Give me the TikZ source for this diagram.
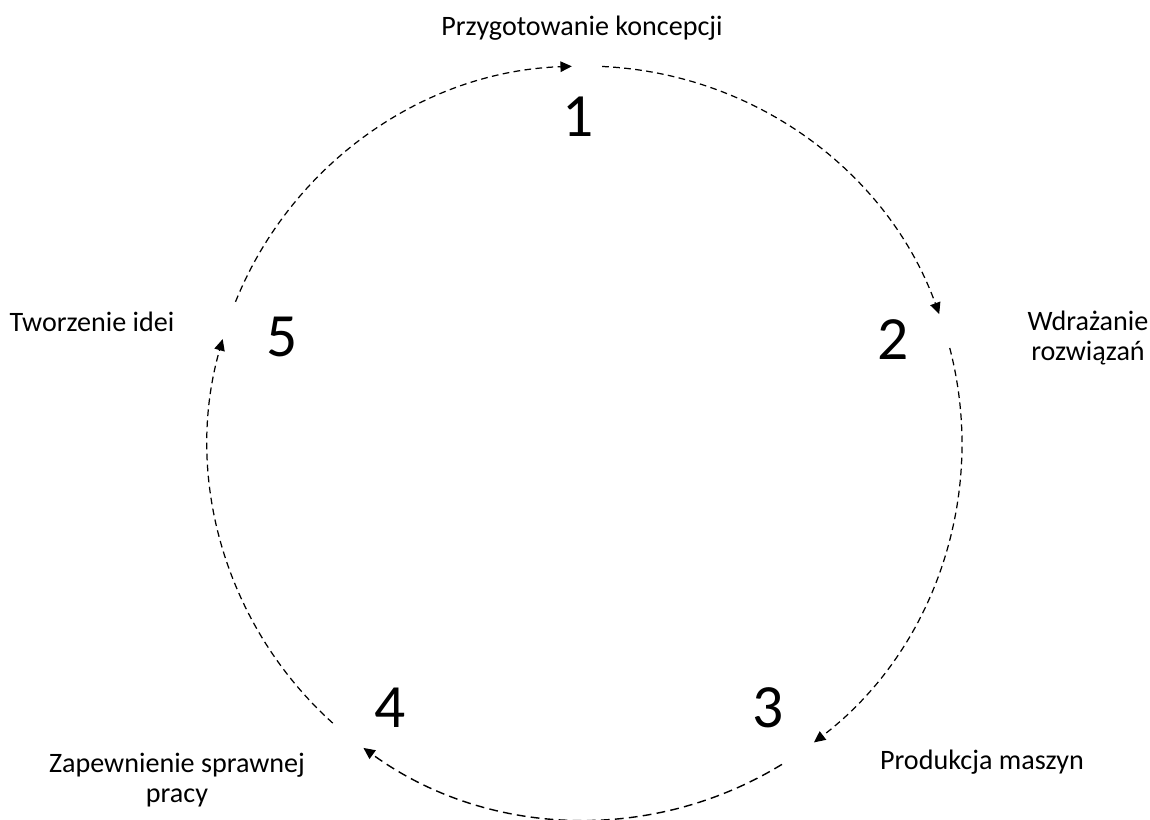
\documentclass[tikz,border=0pt]{standalone}
\usepackage{fontspec}
\setmainfont{Carlito}
\usetikzlibrary{arrows.meta,calc}

\begin{document}
\begin{tikzpicture}[x=0.02cm, y=0.02cm,
    lbl/.style={font=\fontsize{16}{17.5}\selectfont, align=center, inner sep=0pt},
    num/.style={font=\fontsize{35}{40}\selectfont, inner sep=0pt},
    flow/.style={dash pattern=on 3.8pt off 2.5pt, line width=0.7pt, -{Triangle[length=6.5pt,width=6pt]}}]
    \useasboundingbox (0,0) rectangle (1150,819);
    \coordinate (c) at (585,376);

    \node (t1) at (582,791) [lbl] {Przygotowanie koncepcji};
    \node (n1) at (578,702) [num] {1};
    \node (t2) at (1088,481) [lbl] {Wdrażanie\\rozwiązań};
    \node (n2) at (893,479) [num] {2};
    \node (t3) at (982,57) [lbl] {Produkcja maszyn};
    \node (n3) at (768,111) [num] {3};
    \node (t4) at (177,39) [lbl] {Zapewnienie sprawnej\\pracy};
    \node (n4) at (390,111) [num] {4};
    \node (t5) at (92,497) [lbl] {Tworzenie idei};
    \node (n5) at (282,482) [num] {5};

    \coordinate (s1) at ($(c)+(158:7.54cm)$);
    \coordinate (s2) at ($(c)+(87.4:7.54cm)$);
    \coordinate (s3) at ($(c)+(14.6:7.54cm)$);
    \coordinate (s4) at ($(c)+(-58.5:7.54cm)$);
    \coordinate (s5) at ($(c)+(-132:7.54cm)$);

    \draw[flow] (s1) arc[start angle=158, end angle=92, radius=7.54cm];
    \draw[flow] (s2) arc[start angle=87.4, end angle=20, radius=7.54cm];
    \draw[flow] (s3) arc[start angle=14.6, end angle=-52.6, radius=7.54cm];
    \draw[flow, dash pattern=on 5pt off 3pt, line width=0.8pt] (s4) arc[start angle=-58.5, end angle=-126, radius=7.54cm];
    \draw[flow] (s5) arc[start angle=-132, end angle=-196, radius=7.54cm];
\end{tikzpicture}
\end{document}
